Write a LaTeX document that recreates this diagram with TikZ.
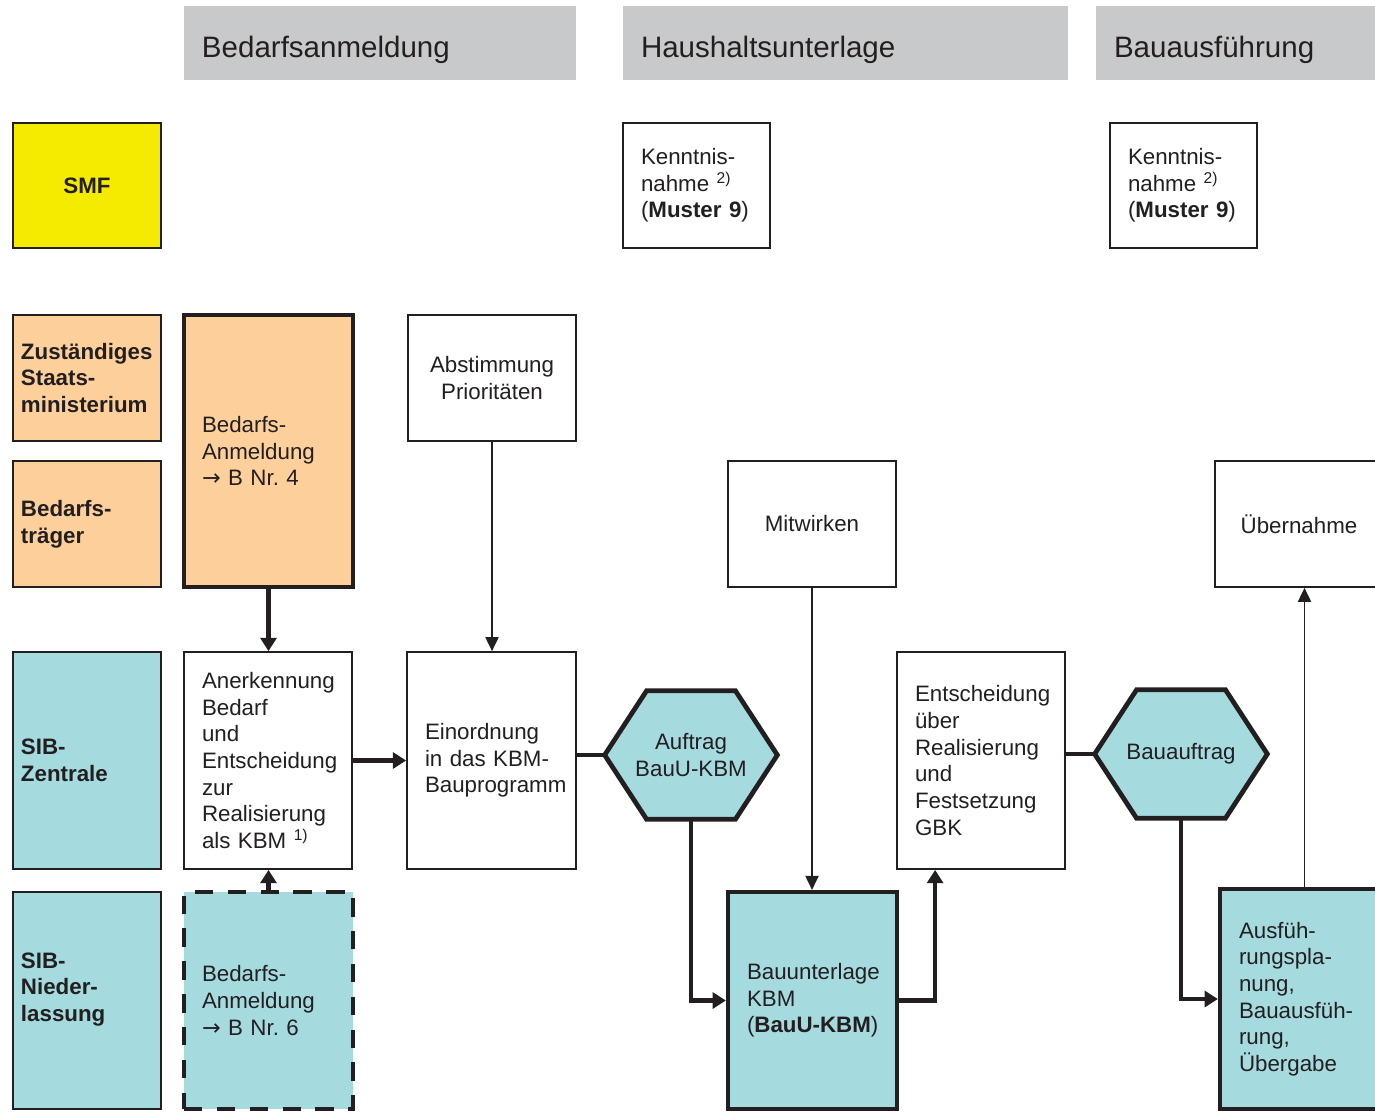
\documentclass[tikz,border=0pt]{standalone}
\usepackage{fontspec}
\setmainfont{Liberation Sans}
\newfontfamily\arrfnt{DejaVu Sans}
\usetikzlibrary{arrows.meta,calc,backgrounds}
\definecolor{ink}{RGB}{35,31,32}
\definecolor{hdr}{RGB}{200,201,203}
\definecolor{smfy}{RGB}{245,235,0}
\definecolor{ora}{RGB}{253,208,155}
\definecolor{sibteal}{RGB}{165,219,223}
\newcommand{\bodyfnt}{\fontsize{12.7}{15.2}\selectfont\hyphenpenalty=10000\exhyphenpenalty=10000 }
\newcommand{\hdrfnt}{\fontsize{16.8}{20}\selectfont}
\newcommand{\rarr}{{\arrfnt →}}
\newcommand{\pxbox}[8]{%
  \pgfmathsetmacro{\pbw}{(#4-#2)*0.02}%
  \pgfmathsetmacro{\pbh}{(#5-#3)*0.02}%
  \pgfmathsetmacro{\pbt}{(#4-#2-2*#6)*0.02}%
  \pgfmathsetmacro{\pbp}{#6*0.02}%
  \node[inner xsep=\pbp cm, inner ysep=0pt, text width=\pbt cm, minimum width=\pbw cm, minimum height=\pbh cm, text=ink, #7] (#1) at ({(#2+#4)/2},{(#3+#5)/2}) {#8};}
\begin{document}
\begin{tikzpicture}[x=0.02cm,y=-0.02cm,
  procbox/.style={draw=ink, line width=1pt, fill=white, align=left, font=\bodyfnt},
  lbl/.style={draw=ink, line width=0.8pt, align=left, font=\bodyfnt\bfseries},
  thkbox/.style={draw=ink, line width=2.4pt, align=left, font=\bodyfnt},
  dshbox/.style={draw=ink, line width=2.4pt, dash pattern=on 10.5pt off 8.2pt, align=left, font=\bodyfnt},
  hdrbox/.style={fill=hdr, align=left, font=\hdrfnt, text height=0.56cm, text depth=0cm},
  hexnode/.style={align=center, font=\bodyfnt},
  hexshape/.style={draw=ink, line width=2.7pt, fill=sibteal},
  thk/.style={draw=ink, line width=2.4pt},
  thn/.style={draw=ink, line width=0.9pt},
  thkarr/.style={-{Triangle[length=7.5pt,width=9pt]}},
  thnarr/.style={-{Triangle[length=8pt,width=7.5pt]}}
]
\useasboundingbox (0,0) rectangle (1375,1113);

% headers
\pxbox{h1}{184}{6}{576}{80}{18}{hdrbox}{Bedarfsanmeldung}
\pxbox{h2}{623}{6}{1068}{80}{18}{hdrbox}{Haushaltsunterlage}
\pxbox{h3}{1096}{6}{1390}{80}{18}{hdrbox}{Bauausführung}

% row labels
\pxbox{smf}{13}{123}{161}{248}{8}{lbl,fill=smfy,align=center}{SMF}
\pxbox{zsm}{13}{315}{161}{441}{8}{lbl,fill=ora}{Zuständiges\\Staats-\\ministerium}
\pxbox{bt}{13}{461}{161}{587}{8}{lbl,fill=ora}{Bedarfs-\\träger}
\pxbox{sibz}{13}{652}{161}{869}{8}{lbl,fill=sibteal}{SIB-\\Zentrale}
\pxbox{sibn}{13}{892}{161}{1109}{8}{lbl,fill=sibteal}{SIB-\\Nieder-\\lassung\\\mbox{}}

% column Bedarfsanmeldung
\pxbox{ba4}{184}{315}{353}{587}{18}{thkbox,fill=ora}{Bedarfs-\\Anmeldung\\\rarr\ B Nr.~4}
\pxbox{anerk}{184}{652}{352}{869}{18}{procbox}{Anerkennung\\Bedarf\\und\\Entscheidung\\zur\\Realisierung\\als KBM \textsuperscript{1)}}
\pxbox{ba6}{184}{892}{353}{1109}{18}{dshbox,fill=sibteal}{Bedarfs-\\Anmeldung\\\rarr\ B Nr.~6}
\pxbox{abst}{408}{315}{576}{441}{18}{procbox,align=center}{Abstimmung\\Prioritäten}
\pxbox{einord}{407}{652}{576}{869}{18}{procbox}{Einordnung\\in das KBM-\\Bauprogramm}

% column Haushaltsunterlage
\pxbox{kn1}{623}{123}{770}{248}{18}{procbox}{Kenntnis-\\nahme \textsuperscript{2)}\\(\textbf{Muster 9})}
\pxbox{hexA}{605}{691}{777}{819}{0}{hexnode}{Auftrag\\BauU-KBM}
\pxbox{mitw}{728}{461}{896}{587}{18}{procbox,align=center}{Mitwirken}
\pxbox{bauU}{728}{892}{897}{1109}{19}{thkbox,fill=sibteal}{Bauunterlage\\KBM\\(\textbf{BauU-KBM})}
\pxbox{entsch}{897}{652}{1065}{869}{18}{procbox}{Entscheidung\\über\\Realisierung\\und\\Festsetzung\\GBK}

% column Bauausfuehrung
\pxbox{kn2}{1110}{123}{1257}{248}{18}{procbox}{Kenntnis-\\nahme \textsuperscript{2)}\\(\textbf{Muster 9})}
\pxbox{hexB}{1095}{690}{1267}{818}{0}{hexnode}{Bauauftrag}
\pxbox{uebern}{1215}{461}{1383}{587}{18}{procbox,align=center}{Übernahme}
\pxbox{ausf}{1220}{889}{1389}{1109}{19}{thkbox,fill=sibteal}{Ausfüh-\\rungspla-\\nung,\\Bauausfüh-\\rung,\\Übergabe}

% hexagon outlines
\begin{scope}[on background layer]
\foreach \h in {hexA,hexB}{
  \draw[hexshape] (\h.west) -- ($(\h.north west)+(42,0)$) -- ($(\h.north east)+(-42,0)$)
    -- (\h.east) -- ($(\h.south east)+(-42,0)$) -- ($(\h.south west)+(42,0)$) -- cycle;
}
\end{scope}

% connectors
\draw[thk,thkarr] (ba4.south) -- (ba4.south |- anerk.north);
\draw[thk,thkarr] (ba6.north) -- (ba6.north |- anerk.south);
\draw[thk,thkarr] (anerk.east) -- (anerk.east -| einord.west);
\draw[thn,thnarr] (abst.south) -- (abst.south |- einord.north);
\draw[thk] (hexA.west -| einord.east) -- (hexA.west);
\draw[thk,thkarr] (hexA.south) |- (bauU.west);
\draw[thn,thnarr] (mitw.south) -- (mitw.south |- bauU.north);
\coordinate (entin) at ($(entsch.south west)+(39,0)$);
\draw[thk,thkarr] (bauU.east) -| (entin);
\draw[thk] (hexB.west -| entsch.east) -- (hexB.west);
\draw[thk,thkarr] (hexB.south) |- (ausf.west);
\draw[thn,thnarr] (ausf.north) -- (ausf.north |- uebern.south);
\end{tikzpicture}
\end{document}
